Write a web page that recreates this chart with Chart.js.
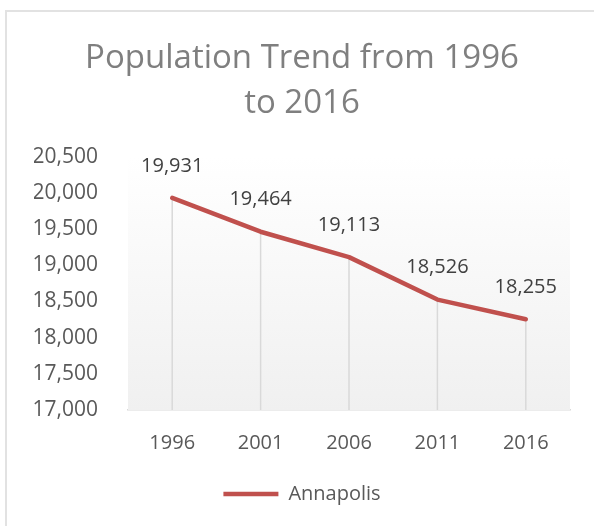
<!DOCTYPE html>
<html>
<head>
<meta charset="utf-8">
<script src="https://cdn.jsdelivr.net/npm/chart.js@4"></script>
<style>
    html, body { margin: 0; padding: 0; background: #fff; overflow: hidden; }
    #frame {
        position: absolute; left: 5px; top: 10px; width: 700px; height: 600px;
        border-left: 2px solid #e2e2e2; border-top: 2px solid #e2e2e2;
    }
    #wrap { position: absolute; left: 0; top: 0; width: 608px; height: 526px; }
</style>
</head>
<body>
<div id="frame"></div>
<div id="wrap"><canvas id="grafico" width="608" height="526"></canvas></div>
<script>
// dados do gráfico
const anos = ["1996", "2001", "2006", "2011", "2016"];
const populacao = [19931, 19464, 19113, 18526, 18255];
const serie = "Annapolis";
const titulo = ["Population Trend from 1996", "to 2016"];

const fonte = "'Open Sans', 'DejaVu Sans', sans-serif";
const fmt = v => v.toLocaleString("en-US");

// fundo em degradê da área de plotagem
const fundoPlot = {
    id: "fundoPlot",
    beforeDatasetsDraw(chart) {
        const { ctx, chartArea: a } = chart;
        const g = ctx.createLinearGradient(0, a.top, 0, a.bottom);
        g.addColorStop(0, "#ffffff");
        g.addColorStop(1, "#f0f0f0");
        ctx.save();
        ctx.fillStyle = g;
        ctx.fillRect(a.left, a.top, a.right - a.left, a.bottom - a.top);
        // linhas de queda até o eixo
        ctx.strokeStyle = "#d9d9d9";
        ctx.lineWidth = 1.5;
        chart.getDatasetMeta(0).data.forEach(p => {
            ctx.beginPath();
            ctx.moveTo(p.x, p.y);
            ctx.lineTo(p.x, a.bottom);
            ctx.stroke();
        });
        ctx.restore();
    }
};

// rótulos de dados acima dos pontos
const rotulos = {
    id: "rotulos",
    afterDatasetsDraw(chart) {
        const { ctx } = chart;
        ctx.save();
        ctx.font = "20px " + fonte;
        ctx.fillStyle = "#404040";
        ctx.textAlign = "center";
        ctx.textBaseline = "middle";
        chart.getDatasetMeta(0).data.forEach((p, i) => {
            ctx.fillText(fmt(populacao[i]), p.x, p.y - 32);
        });
        ctx.restore();
    }
};

new Chart(document.getElementById("grafico"), {
    type: "line",
    data: {
        labels: anos,
        datasets: [{
            label: serie,
            data: populacao,
            borderColor: "#c0504d",
            backgroundColor: "#c0504d",
            borderWidth: 4.5,
            borderCapStyle: "round",
            borderJoinStyle: "round",
            pointRadius: 0,
            tension: 0
        }]
    },
    options: {
        responsive: false,
        animation: false,
        layout: { padding: { top: 12, right: 38, bottom: 12, left: 34 } },
        plugins: {
            title: {
                display: true,
                text: titulo,
                color: "#7f7f7f",
                font: { family: fonte, size: 33, weight: "normal", lineHeight: 1.36 },
                padding: { top: 24, bottom: 31 }
            },
            legend: {
                position: "bottom",
                labels: {
                    usePointStyle: true,
                    pointStyle: "line",
                    pointStyleWidth: 55,
                    color: "#595959",
                    font: { family: fonte, size: 20 },
                    padding: 14
                }
            },
            tooltip: { enabled: false }
        },
        scales: {
            x: {
                offset: true,
                grid: { display: false, drawTicks: false },
                border: { display: true, color: "#d9d9d9", width: 1.5 },
                ticks: { color: "#595959", font: { family: fonte, size: 20 }, padding: 21 },
                afterFit: s => { s.height = 60; }
            },
            y: {
                min: 17000,
                max: 20500,
                grid: { display: false, drawTicks: false },
                border: { display: false },
                ticks: {
                    stepSize: 500,
                    color: "#595959",
                    font: { family: fonte, size: 21 },
                    padding: 30,
                    callback: v => fmt(v)
                },
                afterFit: s => { s.width = 94; }
            }
        }
    },
    plugins: [fundoPlot, rotulos]
});
</script>
</body>
</html>
